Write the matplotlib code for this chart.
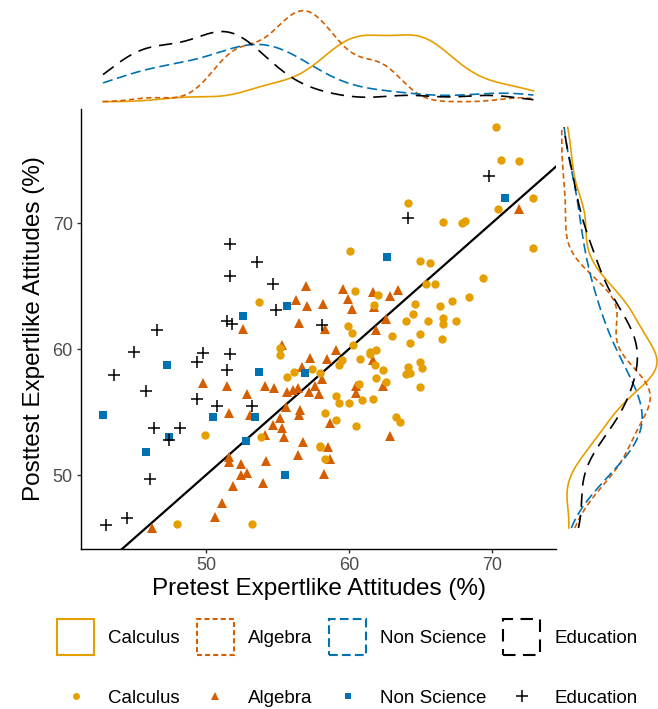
import numpy as np
import matplotlib
matplotlib.use("Agg")
import matplotlib.pyplot as plt
from matplotlib.patches import Patch
from matplotlib.lines import Line2D

plt.rcParams['font.family'] = ['Liberation Sans', 'DejaVu Sans']

groups = ["Calculus", "Algebra", "Non Science", "Education"]
colors = ["#E69F00", "#D55E00", "#0072B2", "#000000"]

calc_pre = [53.7, 55.2, 55.2, 56.15, 55.7, 57.4, 49.9, 53.85, 48.0, 53.2, 70.3, 70.6, 71.9, 72.9, 70.4,
            72.9, 64.1, 66.55, 67.9, 68.1, 60.1, 65.0, 65.7, 69.4, 65.4, 66.0, 60.4, 62.0, 61.75, 64.65,
            66.4, 67.2, 68.4, 64.5, 64.0, 65.55, 66.6, 66.6, 67.5, 59.9, 60.2, 63.0, 64.95, 64.3, 66.5,
            60.3, 59.5, 59.3, 60.8, 61.5, 61.9, 61.5, 61.8, 62.4, 61.9, 62.6, 64.1, 64.95, 65.1, 64.0,
            64.25, 65.0, 57.97, 60.7, 59.1, 59.3, 60.0, 60.9, 61.7, 58.3, 59.1, 60.5, 63.3, 63.6, 58.0,
            58.0, 58.3]
calc_post = [63.75, 60.1, 59.5, 58.2, 57.75, 58.4, 53.2, 53.0, 46.1, 46.1, 77.6, 75.0, 74.9, 71.95, 71.1,
             68.0, 71.6, 70.1, 70.0, 70.15, 67.8, 67.0, 66.8, 65.6, 65.2, 65.15, 64.6, 64.3, 63.5, 63.6,
             63.4, 63.85, 64.15, 62.8, 62.25, 62.25, 62.5, 62.0, 62.25, 61.8, 61.3, 61.0, 61.2, 60.5, 60.8,
             60.3, 59.1, 58.7, 59.2, 59.8, 59.9, 59.6, 58.7, 58.3, 57.7, 57.4, 58.6, 59.0, 58.5, 58.0,
             58.1, 57.0, 58.1, 57.2, 56.3, 55.7, 55.7, 55.95, 56.0, 54.9, 54.4, 53.9, 54.6, 54.2, 52.3,
             52.2, 51.25]

alg_pre = [57.0, 56.3, 57.1, 56.5, 52.6, 55.3, 57.3, 56.7, 49.8, 51.45, 52.9, 54.1, 54.75, 55.7, 56.1,
           56.45, 57.2, 57.6, 55.6, 55.2, 54.7, 55.3, 55.45, 54.1, 56.6, 56.5, 56.8, 56.45, 51.6, 53.1,
           51.6, 51.6, 52.45, 52.45, 52.9, 54.2, 54.0, 51.9, 51.1, 50.6, 46.2, 71.9, 59.6, 61.7, 62.9,
           63.45, 59.9, 58.2, 60.2, 61.75, 62.6, 58.3, 61.9, 59.1, 58.45, 61.65, 62.35, 58.1, 57.9, 60.5,
           60.5, 58.7, 62.9, 58.5, 58.7, 58.25]
alg_post = [65.0, 63.9, 63.4, 62.1, 61.6, 60.3, 59.25, 58.6, 57.3, 57.1, 56.4, 57.1, 56.9, 56.6, 56.75,
            56.9, 56.6, 57.1, 55.4, 54.5, 54.0, 53.7, 53.0, 53.2, 55.2, 54.8, 52.6, 51.6, 54.95, 54.8,
            51.45, 51.0, 50.9, 50.0, 50.2, 51.1, 49.4, 49.1, 47.75, 46.7, 45.8, 71.1, 64.8, 64.5, 64.2,
            64.7, 64.0, 63.6, 63.2, 63.35, 62.35, 61.6, 61.55, 59.9, 59.2, 59.1, 57.1, 57.6, 56.4, 57.1,
            56.5, 54.15, 53.1, 52.25, 51.25, 50.1]

ns_pre = [55.7, 52.6, 47.3, 53.7, 42.8, 50.5, 53.4, 47.4, 45.8, 52.8, 55.5, 56.9, 70.9, 62.65]
ns_post = [63.4, 62.6, 58.7, 58.2, 54.8, 54.6, 54.6, 53.0, 51.8, 52.7, 50.0, 58.1, 71.95, 67.3]

edu_pre = [51.7, 53.55, 51.7, 54.7, 54.9, 51.45, 51.8, 46.6, 45.0, 49.8, 49.4, 51.7, 51.5, 43.6, 45.8,
           49.35, 50.8, 53.2, 46.4, 48.2, 47.4, 46.1, 44.5, 43.0, 69.8, 64.1, 58.1]
edu_post = [68.3, 66.9, 65.8, 65.2, 63.1, 62.2, 62.0, 61.5, 59.8, 59.65, 59.0, 59.6, 58.3, 57.9, 56.7,
            56.0, 55.5, 55.5, 53.75, 53.7, 52.8, 49.7, 46.6, 46.0, 73.7, 70.4, 61.9]

pre = [calc_pre, alg_pre, ns_pre, edu_pre]
post = [calc_post, alg_post, ns_post, edu_post]

markers = ["o", "^", "s", "+"]
msizes = [6.0, 7.4, 5.8, 8.5]
leg_msizes = [5.0, 6.2, 4.8, 8.5]
line_styles = ["-", (0, (3.2, 2.0)), (0, (6.0, 2.8)), (0, (8.0, 4.8))]
patch_styles = ["-", (0, (2.4, 1.5)), (0, (4.2, 2.0)), (0, (6.0, 3.6))]


def kde(data, grid):
    data = np.asarray(data, float)
    n = len(data)
    sd = data.std(ddof=1)
    q75, q25 = np.percentile(data, [75, 25])
    bw = 0.9 * min(sd, (q75 - q25) / 1.34) * n ** -0.2
    z = (grid[:, None] - data[None, :]) / bw
    return np.exp(-0.5 * z ** 2).sum(1) / (n * bw * np.sqrt(2 * np.pi))


W, H = 658, 709
fig = plt.figure(figsize=(W / 100, H / 100), dpi=100)

L, R, T, B = 81, 556, 109, 549
ax = fig.add_axes([L / W, 1 - B / H, (R - L) / W, (B - T) / H])
axt = fig.add_axes([L / W, 1 - 107 / H, (R - L) / W, 101 / H])
axr = fig.add_axes([557 / W, 1 - B / H, 101 / W, (B - T) / H])

xlim = (41.26, 74.48)
ylim = (44.13, 79.05)

ax.axline((50, 50), slope=1, color="black", lw=1.6, zorder=2)

order = [1, 0, 2, 3]
for i in order:
    if markers[i] == "+":
        ax.plot(pre[i], post[i], linestyle="none", marker="+", ms=msizes[i], mew=1.1,
                color=colors[i], zorder=3)
    else:
        ax.plot(pre[i], post[i], linestyle="none", marker=markers[i], ms=msizes[i], mew=0,
                color=colors[i], zorder=3)

ax.set_xlim(*xlim)
ax.set_ylim(*ylim)
ax.set_xticks([50, 60, 70])
ax.set_yticks([50, 60, 70])
for s in ["top", "right"]:
    ax.spines[s].set_visible(False)
for s in ["left", "bottom"]:
    ax.spines[s].set_linewidth(1.0)
ax.tick_params(axis="both", length=3, width=1.0, color="#333333", labelsize=13,
               labelcolor="#4D4D4D", pad=3)
ax.set_xlabel("Pretest Expertlike Attitudes (%)", fontsize=17.5, labelpad=3)
ax.set_ylabel("Posttest Expertlike Attitudes (%)", fontsize=17.5, labelpad=5)

# marginal densities
gx = np.linspace(min(min(p) for p in pre), max(max(p) for p in pre), 512)
gy = np.linspace(min(min(p) for p in post), max(max(p) for p in post), 512)
dx = [kde(p, gx) for p in pre]
dy = [kde(p, gy) for p in post]
mx = max(d.max() for d in dx)
my = max(d.max() for d in dy)
for i in range(4):
    axt.plot(gx, dx[i], color=colors[i], lw=1.2, linestyle=line_styles[i])
    axr.plot(dy[i], gy, color=colors[i], lw=1.2, linestyle=line_styles[i])
axt.set_xlim(*xlim)
axt.set_ylim(-0.058 * mx, 1.0516 * mx)
axr.set_ylim(*ylim)
axr.set_xlim(-0.0493 * my, 1.0105 * my)
for a in (axt, axr):
    a.axis("off")

# legends
fs = 13.5
h1 = [Patch(facecolor="white", edgecolor=colors[i], linewidth=1.5, linestyle=patch_styles[i])
      for i in range(4)]
fig.legend(h1, groups, loc="center", bbox_to_anchor=(347.5 / W, 1 - 637 / H), ncol=4,
           frameon=False, fontsize=fs, handlelength=1.97, handleheight=2.58,
           handletextpad=0.75, columnspacing=0.9, borderpad=0, borderaxespad=0)
h2 = []
for i in range(4):
    if markers[i] == "+":
        h2.append(Line2D([], [], linestyle="none", marker="+", ms=leg_msizes[i], mew=1.1,
                         color=colors[i]))
    else:
        h2.append(Line2D([], [], linestyle="none", marker=markers[i], ms=leg_msizes[i], mew=0,
                         color=colors[i]))
fig.legend(h2, groups, loc="center", bbox_to_anchor=(347.5 / W, 1 - 698 / H), ncol=4,
           frameon=False, fontsize=fs, handlelength=1.97, handleheight=1.0, numpoints=1,
           handletextpad=0.75, columnspacing=0.9, borderpad=0, borderaxespad=0)

fig.savefig("out.png", dpi=100)
